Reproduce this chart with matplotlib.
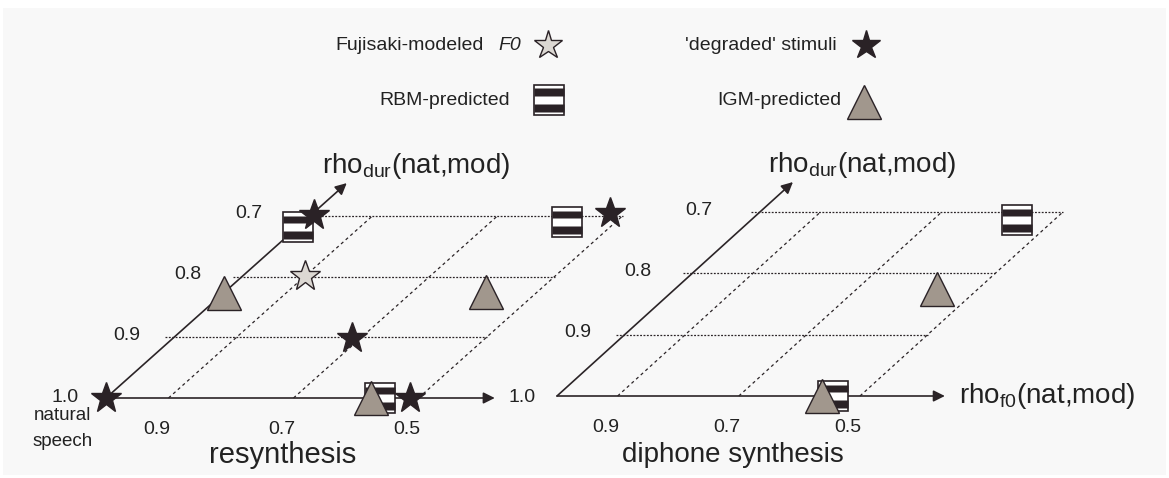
import numpy as np
import matplotlib
matplotlib.use("Agg")
import matplotlib.pyplot as plt
from matplotlib.path import Path
from matplotlib.transforms import Affine2D

plt.rcParams['font.family'] = ['Liberation Sans', 'DejaVu Sans']
plt.rcParams['mathtext.fontset'] = 'custom'
plt.rcParams['mathtext.rm'] = 'Liberation Sans'
plt.rcParams['mathtext.it'] = 'Liberation Sans:italic'

# ---- data (rho_f0, rho_dur) ----
f0_ticks = [0.9, 0.7, 0.5]
dur_ticks = [0.9, 0.8, 0.7]

# resynthesis
resyn_star_f0 = [1.0, 0.995, 0.714, 0.514, 0.525]
resyn_star_dur = [1.0, 0.699, 0.901, 1.0, 0.695]
resyn_fuji_f0 = [0.90]
resyn_fuji_dur = [0.799]
resyn_rbm_f0 = [1.0, 0.562, 0.578]
resyn_rbm_dur = [0.718, 1.0, 0.71]
resyn_igm_f0 = [1.0, 0.576, 0.582]
resyn_igm_dur = [0.827, 1.0, 0.825]

# diphone synthesis
diph_rbm_f0 = [0.561, 0.545]
diph_rbm_dur = [0.713, 1.0]
diph_igm_f0 = [0.568, 0.563]
diph_igm_dur = [0.825, 1.0]

DARK = '#2a2226'
TRI = '#a1978d'
LIGHT = '#dcd8d3'
LINE = '#2b2427'
TXT = '#222222'

# striped square marker (RBM)
def bars_path():
    verts, codes = [], []
    for y0, y1 in [(-0.40, -0.12), (0.12, 0.38)]:
        verts += [(-0.5, y0), (0.5, y0), (0.5, y1), (-0.5, y1), (-0.5, y0)]
        codes += [Path.MOVETO, Path.LINETO, Path.LINETO, Path.LINETO, Path.CLOSEPOLY]
    return Path(verts, codes)

BARS = bars_path()

fig = plt.figure(figsize=(11.69, 4.78), dpi=100)
fig.patch.set_facecolor('white')
ax = fig.add_axes([0, 0, 1, 1])
ax.set_xlim(0, 1169)
ax.set_ylim(478, 0)
ax.axis('off')
ax.add_patch(plt.Rectangle((3, 8), 1163, 467, facecolor='#f8f8f8', edgecolor='none', zorder=0))


def panel(ox, oy, sx, kx, sy):
    m = np.array([[-sx, -kx, ox + sx + kx], [0, sy, oy - sy], [0, 0, 1]])
    return Affine2D(m) + ax.transData


def rbm(x, y, tr, ms=21.5):
    ax.plot(x, y, transform=tr, ls='none', marker='s', ms=ms, mfc='white', mec=DARK, mew=1.2, zorder=4)
    ax.plot(x, y, transform=tr, ls='none', marker=BARS, ms=ms, mfc=DARK, mec='none', zorder=4)


def igm(x, y, tr, ms=24):
    ax.plot(x, y, transform=tr, ls='none', marker='^', ms=ms, mfc=TRI, mec=DARK, mew=1.0, zorder=5)


def star(x, y, tr, fc=DARK, ms=23):
    ax.plot(x, y, transform=tr, ls='none', marker='*', ms=ms, mfc=fc, mec=DARK, mew=1.0, zorder=6)


def frame(tr, f0_tip, dur_tip, end_label, end_size):
    # grid
    for d in dur_ticks:
        ax.plot([1.015, 0.5], [d, d], transform=tr, color=LINE, lw=0.9, ls=(0, (1.5, 1.2)), zorder=2)
    for f in f0_ticks:
        ax.plot([f, f], [1.0, 0.7], transform=tr, color=LINE, lw=0.9, ls=(0, (2.5, 2.5)), zorder=2)
    # axes with arrows
    for xy in [(f0_tip, 1.0), (1.0, dur_tip)]:
        ax.annotate('', xy=xy, xytext=(1.0, 1.0), xycoords=tr, textcoords=tr,
                    arrowprops=dict(arrowstyle='-|>', color=LINE, lw=1.2, mutation_scale=17,
                                    shrinkA=0, shrinkB=0), zorder=3)
    for f in f0_ticks:
        ax.annotate(f'{f:.1f}', xy=(f, 1.0), xycoords=tr, xytext=(-12, -32),
                    textcoords='offset pixels', ha='center', va='center', fontsize=14, color=TXT)
    for d in dur_ticks:
        ax.annotate(f'{d:.1f}', xy=(1.0, d), xycoords=tr, xytext=(-40 - (1 - d) * 70, 2),
                    textcoords='offset pixels', ha='center', va='center', fontsize=14, color=TXT)
    ax.annotate(r'rho$_{\mathregular{dur}}$(nat,mod)', xy=(1.0, dur_tip), xycoords=tr,
                xytext=(-25, 10), textcoords='offset pixels', ha='left', va='baseline',
                fontsize=20, color=TXT)
    ax.annotate(end_label, xy=(f0_tip, 1.0), xycoords=tr, xytext=(14, 0),
                textcoords='offset pixels', ha='left', va='center',
                fontsize=end_size, color=TXT)


# ---- left panel: resynthesis ----
trL = panel(106, 398, 625, 680, 607)
frame(trL, 0.378, 0.646, '1.0', 14)
rbm(resyn_rbm_f0, resyn_rbm_dur, trL)
igm(resyn_igm_f0, resyn_igm_dur, trL)
star(resyn_fuji_f0, resyn_fuji_dur, trL, fc=LIGHT)
star(resyn_star_f0, resyn_star_dur, trL)
ax.annotate('1.0', xy=(1.0, 1.0), xycoords=trL, xytext=(-41, 0), textcoords='offset pixels',
            ha='center', va='center', fontsize=14, color=TXT)
ax.annotate('natural', xy=(1.0, 1.0), xycoords=trL, xytext=(-44, -18), textcoords='offset pixels',
            ha='center', va='center', fontsize=13.5, color=TXT)
ax.annotate('speech', xy=(1.0, 1.0), xycoords=trL, xytext=(-43, -43), textcoords='offset pixels',
            ha='center', va='center', fontsize=13.5, color=TXT)
ax.text(283, 455, 'resynthesis', ha='center', va='center', fontsize=21, color=TXT)

# ---- right panel: diphone synthesis ----
trR = panel(557, 396, 606, 676, 613)
frame(trR, 0.36, 0.651, r'rho$_{\mathregular{f0}}$(nat,mod)', 20)
rbm(diph_rbm_f0, diph_rbm_dur, trR)
igm(diph_igm_f0, diph_igm_dur, trR)
ax.text(733, 455, 'diphone synthesis', ha='center', va='center', fontsize=20, color=TXT)

# ---- legend ----
ax.text(484, 45, 'Fujisaki-modeled', ha='right', va='center', fontsize=14, color=TXT)
ax.text(498, 45, 'F0', ha='left', va='center', fontsize=14, style='italic', color=TXT)
ax.text(837, 45, "'degraded' stimuli", ha='right', va='center', fontsize=14, color=TXT)
ax.text(510, 100, 'RBM-predicted', ha='right', va='center', fontsize=14, color=TXT)
ax.text(841, 100, 'IGM-predicted', ha='right', va='center', fontsize=14, color=TXT)
ax.plot([548], [45], ls='none', marker='*', ms=21, mfc=LIGHT, mec=DARK, mew=1.0)
ax.plot([866], [45], ls='none', marker='*', ms=21, mfc=DARK, mec=DARK, mew=1.0)
ax.plot([549], [100], ls='none', marker='s', ms=22, mfc='white', mec=DARK, mew=1.2)
ax.plot([549], [100], ls='none', marker=BARS, ms=22, mfc=DARK, mec='none')
ax.plot([864], [102], ls='none', marker='^', ms=24, mfc=TRI, mec=DARK, mew=1.0)

fig.savefig('out.png', dpi=100, facecolor=fig.get_facecolor())
